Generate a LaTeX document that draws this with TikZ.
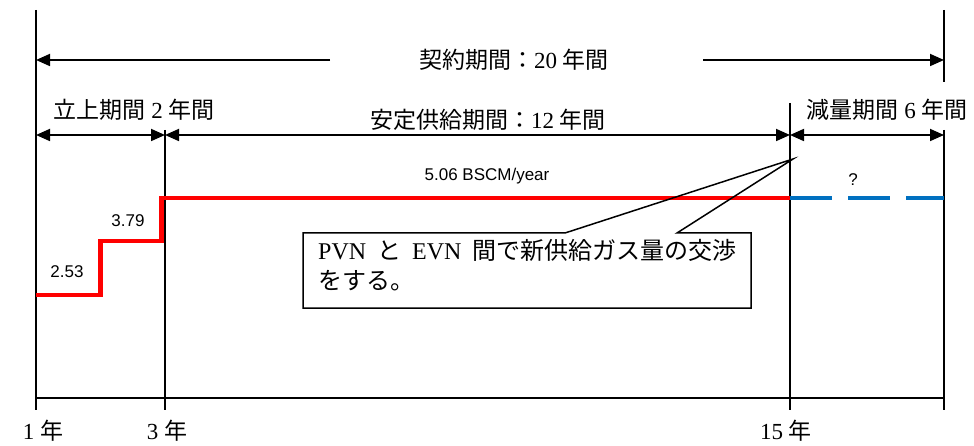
\documentclass[tikz,border=0pt]{standalone}
\usepackage{fontspec}
\setmainfont{Liberation Serif}
\newfontfamily\cjk{Noto Sans CJK JP}
\newfontfamily\sanf{Liberation Sans}
\usetikzlibrary{arrows.meta}
\definecolor{gasred}{RGB}{255,0,0}
\definecolor{gasblue}{RGB}{0,112,192}
\begin{document}
\begin{tikzpicture}[x=1pt,y=-1pt,
  vline/.style={line width=1.2pt},
  axisline/.style={line width=1.8pt},
  dimtwo/.style={line width=1.8pt,{Triangle[length=14pt,width=12pt]}-{Triangle[length=14pt,width=12pt]}},
  dimone/.style={line width=1.8pt,-{Triangle[length=14pt,width=12pt]}},
  lab/.style={inner sep=0pt,font=\fontsize{23}{26}\selectfont},
  small/.style={inner sep=0pt,font=\sanf\fontsize{17}{20}\selectfont},
  supply/.style={gasred,line width=4.5pt,line join=miter},
  future/.style={gasblue,line width=4.5pt,dash pattern=on 42pt off 16pt},
  callout/.style={line width=1.5pt,line join=miter}]
\useasboundingbox (0,0) rectangle (974,446);

% vertical reference lines
\coordinate (v1t) at (36,10);   \coordinate (v1b) at (36,410);
\coordinate (v3t) at (165,130); \coordinate (v3b) at (165,410);
\coordinate (v15t) at (790,103);\coordinate (v15b) at (790,410);
\coordinate (v21a) at (944,10); \coordinate (v21b) at (944,82);
\coordinate (v21c) at (944,130);\coordinate (v21d) at (944,410);
\draw[vline] (v1t) -- (v1b);
\draw[vline] (v3t) -- (v3b);
\draw[vline] (v15t) -- (v15b);
\draw[vline] (v21a) -- (v21b);
\draw[vline] (v21c) -- (v21d);

% axis
\coordinate (ax1) at (36,398); \coordinate (ax2) at (944,398);
\draw[axisline] (ax1) -- (ax2);

% top dimension
\node[lab] (total) at (514,60) {{\cjk 契約期間：}20 {\cjk 年間}};
\coordinate (tL) at (36,60);  \coordinate (tLs) at (330,60);
\coordinate (tR) at (944,60); \coordinate (tRs) at (703,60);
\draw[dimone] (tLs) -- (tL);
\draw[dimone] (tRs) -- (tR);

% second row dimensions
\coordinate (d1) at (36,135); \coordinate (d3) at (165,135);
\coordinate (d15) at (790,135); \coordinate (d21) at (944,135);
\draw[dimtwo] (d1) -- (d3);
\draw[dimtwo] (d3) -- (d15);
\draw[dimtwo] (d15) -- (d21);
\node[lab] (ramp) at (134,110) {{\cjk 立上期間} 2 {\cjk 年間}};
\node[lab] (stable) at (488,120) {{\cjk 安定供給期間：}12 {\cjk 年間}};
\node[lab] (decline) at (887,110) {{\cjk 減量期間} 6 {\cjk 年間}};

% supply curve
\coordinate (s0) at (36,295); \coordinate (s1) at (100.5,295);
\coordinate (s2) at (100.5,241); \coordinate (s3) at (161.5,241);
\coordinate (s4) at (161.5,198); \coordinate (s5) at (790,198);
\coordinate (s6) at (944,198);
\draw[supply] (s0) -- (s1) -- (s2) -- (s3) -- (s4) -- (s5);
\draw[future] (s5) -- (s6);

\node[small] (v253) at (67,272) {2.53};
\node[small] (v379) at (128,221) {3.79};
\node[small] (v506) at (487,176) {5.06 BSCM/year};
\node[small] (vq) at (853,180) {?};

% callout
\coordinate (tip) at (793,159);
\coordinate (bNW) at (303,233); \coordinate (bNE) at (751,233);
\coordinate (bSE) at (751,308); \coordinate (bSW) at (303,308);
\coordinate (p1) at (565,233); \coordinate (p2) at (677,233);
\draw[callout] (bNW) -- (p1) -- (tip) -- (p2) -- (bNE) -- (bSE) -- (bSW) -- cycle;
\node[anchor=north west,inner sep=0pt,align=left,
      font=\fontsize{24}{30}\selectfont] (note) at (318,239)
  {PVN\hspace{11pt}{\cjk と}\hspace{11pt}EVN\hspace{11pt}{\cjk 間で新供給ガス量の交渉}\\
   {\cjk をする。}};

% axis labels
\node[lab] (y1) at (43,431) {1 {\cjk 年}};
\node[lab] (y3) at (167,431) {3 {\cjk 年}};
\node[lab] (y15) at (786,431) {15 {\cjk 年}};
\end{tikzpicture}
\end{document}
